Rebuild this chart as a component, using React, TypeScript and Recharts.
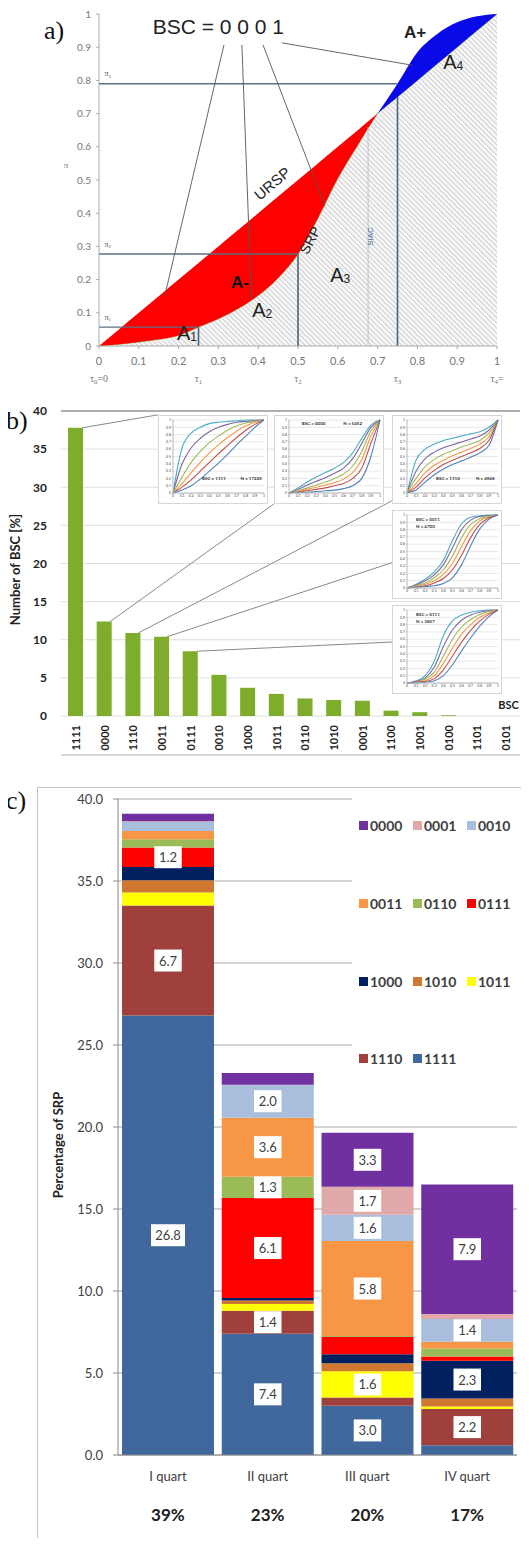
import React from "react";
import {
  ComposedChart,
  BarChart,
  LineChart,
  Area,
  Bar,
  Line,
  XAxis,
  YAxis,
  CartesianGrid,
  ReferenceLine,
  ReferenceDot,
  LabelList,
  Legend,
} from "recharts";

const FONT = 'Lato, "Open Sans", sans-serif';
const ARIAL = '"Liberation Sans", Arial, sans-serif';
const SERIF = '"Liberation Serif", "Times New Roman", serif';

// ---------- a) SRP vs uniform line ----------
const tauX = [0, 0.05, 0.1, 0.15, 0.2, 0.25, 0.3, 0.35, 0.4, 0.45, 0.5, 0.55, 0.6, 0.65, 0.7, 0.75, 0.8, 0.85, 0.9, 0.95, 1];
const srpY = [0, 0.005, 0.012, 0.02, 0.032, 0.057, 0.082, 0.113, 0.152, 0.205, 0.277, 0.385, 0.505, 0.605, 0.7, 0.79, 0.885, 0.94, 0.975, 0.993, 1];
const urspY = [0, 0.05, 0.1, 0.15, 0.2, 0.25, 0.3, 0.35, 0.4, 0.45, 0.5, 0.55, 0.6, 0.65, 0.7, 0.75, 0.8, 0.85, 0.9, 0.95, 1];
const crossX = 0.7;
const aTicks = [0, 0.1, 0.2, 0.3, 0.4, 0.5, 0.6, 0.7, 0.8, 0.9, 1];
const tauTicks = [0, 0.25, 0.5, 0.75, 1];
const tauSubs = ["0", "1", "2", "3", "4"];
const tauTails = ["=0", "", "", "", "="];
const piLevels = [0.057, 0.277, 0.79];
const tauLineTops = [0.057, 0.277, 0.75];
const siacX = 0.676;
const bscPointers = [
  [0.314, 0.907, 0.165, 0.15],
  [0.359, 0.907, 0.383, 0.14],
  [0.412, 0.907, 0.568, 0.42],
  [0.46, 0.913, 0.786, 0.846],
];

// ---------- b) share of each BSC ----------
const bscCats = ["1111", "0000", "1110", "0011", "0111", "0010", "1000", "1011", "0110", "1010", "0001", "1100", "1001", "0100", "1101", "0101"];
const bscShare = [37.8, 12.4, 10.9, 10.4, 8.5, 5.4, 3.7, 2.9, 2.3, 2.1, 2.0, 0.7, 0.5, 0.1, 0, 0];
const bTicks = [0, 5, 10, 15, 20, 25, 30, 35, 40];
// leader lines: bar top -> inset edge (data coords)
const bLeaders = [
  [0.25, 37.8, 2.88, 39.5],
  [1.22, 12.4, 6.92, 27.8],
  [2.2, 10.9, 11.03, 28.2],
  [3.2, 10.4, 11.03, 20.1],
  [4.25, 8.5, 11.03, 9.7],
];

// insets: six SRP curves each
const insetX = [0, 0.1, 0.2, 0.3, 0.4, 0.5, 0.6, 0.7, 0.8, 0.9, 1];
const curveColors = ["#4BACC6", "#8064A2", "#9BBB59", "#F79646", "#C0504D", "#4F81BD"];
const ins1111 = [
  [0, 0.62, 0.82, 0.9, 0.95, 0.97, 0.98, 0.99, 1, 1, 1],
  [0, 0.4, 0.62, 0.75, 0.84, 0.9, 0.94, 0.97, 0.98, 0.99, 1],
  [0, 0.22, 0.42, 0.57, 0.69, 0.78, 0.86, 0.92, 0.96, 0.98, 1],
  [0, 0.13, 0.28, 0.42, 0.55, 0.66, 0.76, 0.85, 0.92, 0.97, 1],
  [0, 0.08, 0.18, 0.3, 0.42, 0.54, 0.65, 0.76, 0.86, 0.94, 1],
  [0, 0.04, 0.1, 0.19, 0.3, 0.41, 0.53, 0.66, 0.78, 0.9, 1],
];
const ins0000 = [
  [0, 0.07, 0.15, 0.22, 0.28, 0.34, 0.42, 0.55, 0.75, 0.93, 1],
  [0, 0.05, 0.11, 0.16, 0.21, 0.27, 0.34, 0.47, 0.68, 0.9, 1],
  [0, 0.03, 0.07, 0.11, 0.15, 0.2, 0.26, 0.37, 0.57, 0.85, 1],
  [0, 0.02, 0.05, 0.08, 0.11, 0.14, 0.19, 0.28, 0.46, 0.78, 1],
  [0, 0.01, 0.03, 0.05, 0.07, 0.1, 0.13, 0.2, 0.34, 0.68, 1],
  [0, 0.01, 0.01, 0.02, 0.03, 0.04, 0.06, 0.1, 0.2, 0.5, 1],
];
const ins1110 = [
  [0, 0.45, 0.6, 0.67, 0.72, 0.75, 0.78, 0.81, 0.84, 0.9, 1],
  [0, 0.3, 0.47, 0.56, 0.62, 0.66, 0.7, 0.74, 0.78, 0.86, 1],
  [0, 0.2, 0.36, 0.46, 0.53, 0.58, 0.63, 0.67, 0.72, 0.82, 1],
  [0, 0.13, 0.28, 0.38, 0.45, 0.51, 0.56, 0.61, 0.67, 0.77, 1],
  [0, 0.08, 0.21, 0.31, 0.39, 0.45, 0.5, 0.55, 0.61, 0.72, 1],
  [0, 0.04, 0.15, 0.25, 0.33, 0.39, 0.44, 0.49, 0.55, 0.65, 1],
];
const ins0011 = [
  [0, 0.05, 0.12, 0.22, 0.38, 0.65, 0.88, 0.97, 0.99, 1, 1],
  [0, 0.04, 0.1, 0.18, 0.32, 0.55, 0.8, 0.93, 0.98, 0.99, 1],
  [0, 0.03, 0.07, 0.14, 0.25, 0.44, 0.69, 0.87, 0.95, 0.98, 1],
  [0, 0.02, 0.05, 0.1, 0.19, 0.34, 0.57, 0.79, 0.92, 0.97, 1],
  [0, 0.01, 0.03, 0.07, 0.13, 0.25, 0.45, 0.69, 0.87, 0.96, 1],
  [0, 0.01, 0.02, 0.03, 0.06, 0.14, 0.32, 0.58, 0.81, 0.94, 1],
];
const ins0111 = [
  [0, 0.03, 0.1, 0.3, 0.65, 0.85, 0.93, 0.97, 0.99, 1, 1],
  [0, 0.02, 0.07, 0.22, 0.5, 0.73, 0.86, 0.93, 0.97, 0.99, 1],
  [0, 0.01, 0.05, 0.15, 0.37, 0.6, 0.77, 0.87, 0.94, 0.98, 1],
  [0, 0.01, 0.03, 0.1, 0.27, 0.48, 0.67, 0.8, 0.9, 0.96, 1],
  [0, 0.01, 0.02, 0.06, 0.18, 0.37, 0.56, 0.72, 0.85, 0.94, 1],
  [0, 0, 0.01, 0.03, 0.1, 0.25, 0.44, 0.62, 0.78, 0.91, 1],
];

// ---------- c) SRP percentage per quarter ----------
const quarters = ["I quart", "II quart", "III quart", "IV quart"];
const quarterShare = ["39%", "23%", "20%", "17%"];
const s1111 = [26.8, 7.4, 3.0, 0.6];
const s1110 = [6.7, 1.4, 0.5, 2.2];
const s1011 = [0.8, 0.4, 1.6, 0.15];
const s1010 = [0.75, 0.22, 0.5, 0.5];
const s1000 = [0.8, 0.15, 0.55, 2.3];
const s0111 = [1.2, 6.1, 1.05, 0.25];
const s0110 = [0.5, 1.3, 0.05, 0.5];
const s0011 = [0.5, 3.6, 5.8, 0.4];
const s0010 = [0.55, 2.0, 1.6, 1.4];
const s0001 = [0.05, 0, 1.7, 0.3];
const s0000 = [0.45, 0.72, 3.3, 7.9];
const cTicks = [0, 5, 10, 15, 20, 25, 30, 35, 40];
const cSeries: Record<string, number[]> = {
  "1111": s1111, "1110": s1110, "1011": s1011, "1010": s1010, "1000": s1000,
  "0111": s0111, "0110": s0110, "0011": s0011, "0010": s0010, "0001": s0001, "0000": s0000,
};
const cColors: Record<string, string> = {
  "0000": "#7030A0", "0001": "#E0A8A8", "0010": "#A9BEDD", "0011": "#F79646",
  "0110": "#9BBB59", "0111": "#FF0000", "1000": "#002060", "1010": "#D0782F",
  "1011": "#FFFF00", "1110": "#A0403C", "1111": "#41689C",
};
// which segments carry a value box
const cLabeled: Record<string, number[]> = {
  "0000": [0, 0, 1, 1], "0001": [0, 0, 1, 0], "0010": [0, 1, 1, 1], "0011": [0, 1, 1, 0],
  "0110": [0, 1, 0, 0], "0111": [1, 1, 0, 0], "1000": [0, 0, 0, 1], "1010": [0, 0, 0, 0],
  "1011": [0, 0, 1, 0], "1110": [1, 1, 0, 1], "1111": [1, 1, 1, 0],
};
const stackOrder = ["1111", "1110", "1011", "1010", "1000", "0111", "0110", "0011", "0010", "0001", "0000"];
const legendRows = [["0000", "0001", "0010"], ["0011", "0110", "0111"], ["1000", "1010", "1011"], ["1110", "1111"]];

// data tables
const aData = tauX.map((x, i) => {
  const s = srpY[i];
  const u = urspY[i];
  return {
    x,
    low: Math.min(s, u),
    red: x <= crossX ? [s, u] : null,
    blue: x >= crossX ? [u, s] : null,
  };
});
const bData = bscCats.map((name, i) => ({ i, name, v: bscShare[i] }));
const bBounds = bscCats.map((_, i) => i - 0.5).concat([bscCats.length - 0.5]);
const bIdx = bscCats.map((_, i) => i);
const cData = quarters.map((q, i) => {
  const row: any = { q, share: quarterShare[i], qi: i };
  stackOrder.forEach((k) => (row[k] = cSeries[k][i]));
  return row;
});
const insetRows = (curves: number[][]) =>
  insetX.map((x, i) => {
    const r: any = { x };
    curves.forEach((c, k) => (r["c" + k] = c[i]));
    return r;
  });

// text placed at data coordinates
const txt = (key: string, x: number, y: number, body: React.ReactNode, st: any = {}, axes: any = {}) => (
  <ReferenceDot
    key={key}
    x={x}
    y={y}
    r={0}
    ifOverflow="visible"
    {...axes}
    shape={(p: any) => (
      <text
        x={p.cx}
        y={p.cy}
        textAnchor={st.anchor || "middle"}
        dominantBaseline="central"
        fontSize={st.size || 12}
        fontWeight={st.weight || "normal"}
        fill={st.fill || "#222"}
        fontFamily={st.family || ARIAL}
        transform={st.rotate ? `rotate(${st.rotate} ${p.cx} ${p.cy})` : undefined}
      >
        {body}
      </text>
    )}
  />
);

const areaName = (n: string) => (
  <>
    A<tspan fontSize={12} dy={4}>{n}</tspan>
  </>
);

const PanelA = () => (
  <div style={{ position: "absolute", left: 0, top: 0 }}>
    <ComposedChart width={529} height={392} data={aData} margin={{ top: 14, right: 32, bottom: 2, left: 0 }}>
      <defs>
        <pattern id="hatchA" width="3.6" height="3.6" patternUnits="userSpaceOnUse" patternTransform="rotate(-45)">
          <rect width="3.6" height="3.6" fill="#f6f6f6" />
          <line x1="0" y1="0" x2="0" y2="3.6" stroke="#a2a2a2" strokeWidth="0.9" />
        </pattern>
      </defs>
      <XAxis
        xAxisId="num"
        dataKey="x"
        type="number"
        domain={[0, 1]}
        ticks={aTicks}
        interval={0}
        height={24}
        tickSize={3}
        tickMargin={8}
        stroke="#aaa"
        tick={{ fontSize: 11, fill: "#777", fontFamily: FONT }}
      />
      <XAxis
        xAxisId="tau"
        dataKey="x"
        type="number"
        domain={[0, 1]}
        ticks={tauTicks}
        interval={0}
        height={20}
        axisLine={false}
        tickLine={false}
        tickSize={0}
        tickMargin={0}
        tick={(p: any) => {
          const i = tauTicks.indexOf(p.payload.value);
          return (
            <text x={p.x} y={p.y + 12} textAnchor="middle" fontSize={10} fill="#777" fontFamily={SERIF}>
              τ<tspan fontSize={7} dy={2}>{tauSubs[i]}</tspan>
              <tspan dy={-2}>{tauTails[i]}</tspan>
            </text>
          );
        }}
      />
      <YAxis
        type="number"
        domain={[0, 1]}
        ticks={aTicks}
        interval={0}
        width={99}
        tickSize={3}
        tickMargin={5}
        stroke="#aaa"
        tick={{ fontSize: 10, fill: "#777", fontFamily: FONT }}
        label={{
          content: (p: any) => {
            const vb = p.viewBox;
            return (
              <text x={66} y={vb.y + vb.height / 2 - 15} textAnchor="middle" dominantBaseline="central" fontSize={9} fill="#777" fontFamily={SERIF}>
                π
              </text>
            );
          },
        }}
      />
      <Area xAxisId="num" type="monotone" dataKey="low" fill="url(#hatchA)" fillOpacity={1} stroke="#8fbc5a" strokeWidth={1} isAnimationActive={false} />
      <Area xAxisId="num" type="monotone" dataKey="red" fill="#FF0000" fillOpacity={1} stroke="none" isAnimationActive={false} />
      <Area xAxisId="num" type="monotone" dataKey="blue" fill="#0a0ae8" fillOpacity={1} stroke="none" isAnimationActive={false} />
      {piLevels.map((p, k) => (
        <ReferenceLine key={"pi" + k} xAxisId="num" segment={[{ x: 0, y: p }, { x: tauTicks[k + 1], y: p }]} stroke="#5e6e80" strokeWidth={1.4} />
      ))}
      {tauLineTops.map((p, k) => (
        <ReferenceLine key={"tau" + k} xAxisId="num" segment={[{ x: tauTicks[k + 1], y: 0 }, { x: tauTicks[k + 1], y: p }]} stroke="#4e6278" strokeWidth={1.6} />
      ))}
      <ReferenceLine xAxisId="num" segment={[{ x: siacX, y: 0 }, { x: siacX, y: 0.66 }]} stroke="#b8c4d2" strokeWidth={1} />
      {bscPointers.map((s, k) => (
        <ReferenceLine key={"bp" + k} xAxisId="num" segment={[{ x: s[0], y: s[1] }, { x: s[2], y: s[3] }]} stroke="#555" strokeWidth={0.9} />
      ))}
      {txt("bsc", 0.3, 0.961, "BSC = 0 0 0 1", { size: 21 }, { xAxisId: "num" })}
      {txt("ap", 0.794, 0.943, "A+", { size: 17, weight: 700 }, { xAxisId: "num" })}
      {txt("a4", 0.89, 0.855, areaName("4"), { size: 20 }, { xAxisId: "num" })}
      {txt("ursp", 0.435, 0.49, "URSP", { size: 15, rotate: -40 }, { xAxisId: "num" })}
      {txt("srp", 0.53, 0.319, "SRP", { size: 14, rotate: -62 }, { xAxisId: "num" })}
      {txt("siac", 0.681, 0.33, "SIAC", { size: 8, rotate: -90, fill: "#4a6a9a" }, { xAxisId: "num" })}
      {txt("a3", 0.606, 0.214, areaName("3"), { size: 20 }, { xAxisId: "num" })}
      {txt("am", 0.354, 0.19, "A-", { size: 17, weight: 700, fill: "#111" }, { xAxisId: "num" })}
      {txt("a2", 0.41, 0.108, areaName("2"), { size: 20 }, { xAxisId: "num" })}
      {txt("a1", 0.221, 0.039, areaName("1"), { size: 20 }, { xAxisId: "num" })}
      {piLevels.map((p, k) =>
        txt("pl" + k, 0.022, p + 0.03, <>π<tspan fontSize={5} dy={2}>{String(k + 1)}</tspan></>, { size: 8, fill: "#555", family: SERIF }, { xAxisId: "num" })
      )}
    </ComposedChart>
  </div>
);

const Inset = ({ left, top, curves, notes }: { left: number; top: number; curves: number[][]; notes: React.ReactNode }) => (
  <div style={{ position: "absolute", left, top, width: 110, height: 89, background: "#fff", border: "1px solid #d6d6d6", boxSizing: "border-box" }}>
    <LineChart width={108} height={87} data={insetRows(curves)} margin={{ top: 4, right: 3, bottom: 0, left: 0 }}>
      <CartesianGrid vertical={false} stroke="#e8e8e8" />
      <XAxis dataKey="x" type="number" domain={[0, 1]} ticks={insetX} interval={0} height={10} tickSize={1} tickMargin={1} stroke="#bbb" tick={{ fontSize: 3.5, fill: "#444", fontFamily: FONT }} />
      <YAxis type="number" domain={[0, 1]} ticks={insetX} interval={0} width={14} tickSize={1} tickMargin={1} stroke="#bbb" tick={{ fontSize: 3.5, fill: "#444", fontFamily: FONT }} />
      {curves.map((_, k) => (
        <Line key={k} type="monotone" dataKey={"c" + k} stroke={curveColors[k]} strokeWidth={1.1} dot={false} isAnimationActive={false} />
      ))}
      {notes}
    </LineChart>
  </div>
);

const tiny = { size: 4.5, weight: 700, fill: "#333", family: FONT };

const PanelB = () => (
  <div style={{ position: "absolute", left: 0, top: 400 }}>
    <ComposedChart width={529} height={360} data={bData} margin={{ top: 11, right: 9, bottom: 0, left: 0 }}>
      <CartesianGrid xAxisId="lab" vertical={false} stroke="#dedede" />
      <XAxis xAxisId="mark" dataKey="i" type="number" domain={[-0.5, 15.5]} ticks={bBounds} interval={0} tick={false} tickSize={5} height={5} stroke="#aaa" />
      <XAxis
        xAxisId="lab"
        dataKey="i"
        type="number"
        domain={[-0.5, 15.5]}
        ticks={bIdx}
        interval={0}
        height={39}
        axisLine={false}
        tickLine={false}
        tickSize={0}
        tickMargin={9}
        tick={(p: any) => (
          <text
            x={p.x}
            y={p.y}
            textAnchor="end"
            dominantBaseline="central"
            transform={`rotate(-90 ${p.x} ${p.y})`}
            fontSize={11}
            fontWeight={700}
            fill="#222"
            fontFamily={FONT}
          >
            {bscCats[p.payload.value]}
          </text>
        )}
      />
      <YAxis
        domain={[0, 40]}
        ticks={bTicks}
        interval={0}
        width={61}
        axisLine={false}
        tickLine={false}
        tickSize={0}
        tickMargin={14}
        tick={{ fontSize: 12, fontWeight: 700, fill: "#222", fontFamily: FONT }}
        label={{
          content: (p: any) => {
            const vb = p.viewBox;
            const cy = vb.y + vb.height / 2 + 6;
            return (
              <text x={15} y={cy} transform={`rotate(-90 15 ${cy})`} textAnchor="middle" dominantBaseline="central" fontSize={13} fontWeight={700} fill="#222" fontFamily={FONT}>
                Number of BSC [%]
              </text>
            );
          },
        }}
      />
      <ReferenceLine xAxisId="lab" y={40} stroke="#999" strokeWidth={1.6} />
      <Bar xAxisId="lab" dataKey="v" fill="#7DAD2B" barSize={15} isAnimationActive={false} />
      {bLeaders.map((s, k) => (
        <ReferenceLine key={"bl" + k} xAxisId="lab" segment={[{ x: s[0], y: s[1] }, { x: s[2], y: s[3] }]} stroke="#888" strokeWidth={1} />
      ))}
      {txt("bscx", 15.1, 1.45, "BSC", { size: 11, weight: 700, family: FONT }, { xAxisId: "lab" })}
    </ComposedChart>
    <Inset left={158} top={15} curves={ins1111} notes={[txt("n1", 0.45, 0.2, "BSC = 1111", tiny), txt("n2", 0.86, 0.2, "N = 17225", tiny)]} />
    <Inset left={274} top={15} curves={ins0000} notes={[txt("n1", 0.27, 0.95, "BSC = 0000", tiny), txt("n2", 0.7, 0.95, "N = 5452", tiny)]} />
    <Inset left={392} top={15} curves={ins1110} notes={[txt("n1", 0.45, 0.2, "BSC = 1110", tiny), txt("n2", 0.86, 0.2, "N = 4948", tiny)]} />
    <Inset left={392} top={110} curves={ins0011} notes={[txt("n1", 0.1, 0.94, "BSC = 0011", { ...tiny, anchor: "start" }), txt("n2", 0.1, 0.84, "N = 4700", { ...tiny, anchor: "start" })]} />
    <Inset left={392} top={205} curves={ins0111} notes={[txt("n1", 0.1, 0.94, "BSC = 0111", { ...tiny, anchor: "start" }), txt("n2", 0.1, 0.84, "N = 3857", { ...tiny, anchor: "start" })]} />
  </div>
);

// label value is null unless that segment carries a value box
const boxValue = (k: string) => (row: any) => (cLabeled[k][row.qi] ? row[k] : null);

const valueBox = (p: any) => {
  if (p.value === null || p.value === undefined) return null;
  const t = Number(p.value).toFixed(1);
  const w = t.length * 6.5 + 8;
  const cx = p.x + p.width / 2;
  const cy = p.y + p.height / 2;
  return (
    <g>
      <rect x={cx - w / 2} y={cy - 11} width={w} height={22} fill="#fff" />
      <text x={cx} y={cy} textAnchor="middle" dominantBaseline="central" fontSize={13} fill="#404040" fontFamily={FONT}>
        {t}
      </text>
    </g>
  );
};

const legendColX = [7, 61, 115];
const legendRowY = [35, 113, 191, 268];

const PanelC = () => (
  <>
    <div style={{ position: "absolute", left: 37, top: 787, width: 492, height: 759, borderLeft: "1.5px solid #c4c4c4", borderTop: "1.5px solid #c4c4c4", boxSizing: "border-box" }} />
    <div style={{ position: "absolute", left: 37, top: 787 }}>
      <BarChart width={492} height={759} data={cData} margin={{ top: 12, right: 12, bottom: 11, left: 0 }}>
        <CartesianGrid vertical={false} stroke="#a8a8a8" />
        <XAxis
          dataKey="q"
          height={80}
          tickLine={false}
          tickSize={0}
          tickMargin={0}
          stroke="#888"
          interval={0}
          tick={(p: any) => (
            <g>
              <text x={p.x} y={p.y + 21} textAnchor="middle" dominantBaseline="central" fontSize={13} fill="#404040" fontFamily={FONT}>
                {p.payload.value}
              </text>
              <text x={p.x} y={p.y + 59} textAnchor="middle" dominantBaseline="central" fontSize={17} fontWeight={700} fill="#222" fontFamily={FONT}>
                {quarterShare[p.index]}
              </text>
            </g>
          )}
        />
        <YAxis
          domain={[0, 40]}
          ticks={cTicks}
          interval={0}
          width={81}
          tickSize={5}
          tickMargin={10}
          stroke="#888"
          tickFormatter={(v: number) => v.toFixed(1)}
          tick={{ fontSize: 13, fill: "#404040", fontFamily: FONT }}
          label={{
            content: (p: any) => {
              const vb = p.viewBox;
              const cy = vb.y + vb.height / 2 + 18;
              return (
                <text x={21} y={cy} transform={`rotate(-90 21 ${cy})`} textAnchor="middle" dominantBaseline="central" fontSize={13} fontWeight={700} fill="#222" fontFamily={FONT}>
                  Percentage of SRP
                </text>
              );
            },
          }}
        />
        <Legend
          layout="vertical"
          align="center"
          verticalAlign="middle"
          wrapperStyle={{ left: 315, top: 3, width: 165, height: 307, background: "#fff" }}
          content={() => (
            <div style={{ position: "relative", width: 165, height: 307 }}>
              {legendRows.map((row, r) =>
                row.map((k, c) => (
                  <div
                    key={k}
                    style={{
                      position: "absolute",
                      left: legendColX[c],
                      top: legendRowY[r] - 9,
                      height: 18,
                      display: "flex",
                      alignItems: "center",
                      fontFamily: FONT,
                      fontWeight: 700,
                      fontSize: 14,
                      color: "#404040",
                    }}
                  >
                    <span style={{ display: "inline-block", width: 9, height: 9, background: cColors[k], marginRight: 2 }} />
                    {k}
                  </div>
                ))
              )}
            </div>
          )}
        />
        {stackOrder.map((k) => (
          <Bar key={k} dataKey={k} stackId="q" fill={cColors[k]} barSize={92} isAnimationActive={false}>
            <LabelList dataKey={boxValue(k)} content={valueBox} />
          </Bar>
        ))}
      </BarChart>
    </div>
  </>
);

const panelTag = (left: number, top: number): React.CSSProperties => ({
  position: "absolute",
  left,
  top,
  fontFamily: SERIF,
  fontSize: 26,
  lineHeight: "26px",
  color: "#111",
});

export default function App() {
  return (
    <div style={{ position: "relative", width: 529, height: 1546, margin: -8, background: "#fff", overflow: "hidden" }}>
      <PanelA />
      <PanelB />
      <PanelC />
      <div style={panelTag(44, 18)}>a)</div>
      <div style={panelTag(6, 408)}>b)</div>
      <div style={panelTag(6, 788)}>c)</div>
    </div>
  );
}
